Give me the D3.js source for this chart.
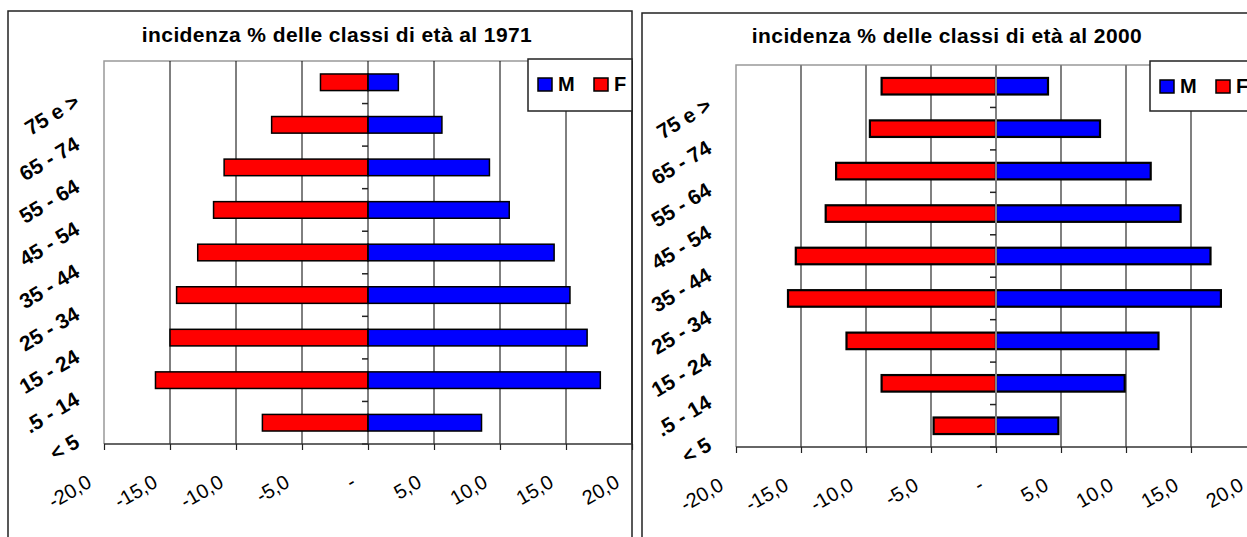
<!DOCTYPE html>
<html>
<head>
<meta charset="utf-8">
<script src="https://cdn.jsdelivr.net/npm/d3@7/dist/d3.min.js"></script>
<style>
  html, body { margin: 0; padding: 0; background: #fff; }
  svg { display: block; font-family: "Liberation Sans", Arial, sans-serif; }
</style>
</head>
<body>
<svg id="chart" width="1247" height="537"></svg>
<script>
// ---- data ----
const categories = ["75 e >", "65 - 74", "55 - 64", "45 - 54", "35 - 44", "25 - 34", "15 - 24", ".5 - 14", "< 5"];
const male1971   = [2.3, 5.6, 9.2, 10.7, 14.1, 15.3, 16.6, 17.6, 8.6];
const female1971 = [-3.6, -7.3, -10.9, -11.7, -12.9, -14.5, -15.0, -16.1, -8.0];
const male2000   = [4.0, 8.0, 11.9, 14.2, 16.5, 17.3, 12.5, 9.9, 4.8];
const female2000 = [-8.8, -9.7, -12.3, -13.1, -15.4, -16.0, -11.5, -8.8, -4.8];
const xTicks = [-20, -15, -10, -5, 0, 5, 10, 15, 20];
const seriesNames = ["M", "F"];
const titles = ["incidenza % delle classi di età al 1971", "incidenza % delle classi di età al 2000"];

const locale = d3.formatLocale({decimal: ",", thousands: ".", grouping: [3], currency: ["€", ""], minus: "-"});
const fmt = v => v === 0 ? "-" : locale.format(".1f")(v);

const svg = d3.select("#chart");

function drawChart(cfg) {
  const g = svg.append("g");
  // outer box
  g.append("rect").attr("x", cfg.box[0]).attr("y", cfg.box[1])
    .attr("width", cfg.box[2] - cfg.box[0]).attr("height", cfg.box[3] - cfg.box[1])
    .attr("fill", "#fff").attr("stroke", "#222").attr("stroke-width", 1.5);

  const x = d3.scaleLinear().domain([-20, 20]).range([cfg.plot[0], cfg.plot[1]]);
  const y = d3.scaleBand().domain(categories).range([cfg.plot[2], cfg.plot[3]])
    .paddingInner(0.61).paddingOuter(0.305);
  const step = y.step();
  const boundary = d => y(d) - y.paddingInner() * step / 2 + step;

  // plot area border (left/top gray)
  g.append("path")
    .attr("d", `M${cfg.plot[0]},${cfg.plot[3]}V${cfg.plot[2]}H${cfg.plot[1]}`)
    .attr("fill", "none").attr("stroke", "#999").attr("stroke-width", 1.5);

  // gridlines
  g.append("g").selectAll("line").data(xTicks.filter(t => t !== 0 && t !== -20))
    .join("line")
    .attr("x1", d => x(d)).attr("x2", d => x(d))
    .attr("y1", cfg.plot[2]).attr("y2", cfg.plot[3])
    .attr("stroke", cfg.gridColor).attr("stroke-width", cfg.gridWidth);

  // bars
  const rows = categories.map((c, i) => ({c, m: cfg.male[i], f: cfg.female[i]}));
  g.append("g").selectAll("rect.f").data(rows).join("rect")
    .attr("x", d => x(d.f)).attr("width", d => x(0) - x(d.f))
    .attr("y", d => y(d.c)).attr("height", y.bandwidth())
    .attr("fill", "#ff0000").attr("stroke", "#000").attr("stroke-width", cfg.barStroke);
  g.append("g").selectAll("rect.m").data(rows).join("rect")
    .attr("x", x(0)).attr("width", d => x(d.m) - x(0))
    .attr("y", d => y(d.c)).attr("height", y.bandwidth())
    .attr("fill", "#0000ff").attr("stroke", "#000").attr("stroke-width", cfg.barStroke);

  // zero axis with ticks
  const za = g.append("g");
  za.append("line").attr("x1", x(0)).attr("x2", x(0))
    .attr("y1", cfg.plot[2]).attr("y2", cfg.plot[3])
    .attr("stroke", cfg.zeroColor).attr("stroke-width", cfg.gridWidth);
  za.selectAll("line.t").data(categories).join("line")
    .attr("x1", x(0) - 6).attr("x2", x(0))
    .attr("y1", d => boundary(d)).attr("y2", d => boundary(d))
    .attr("stroke", "#222").attr("stroke-width", 1.5);

  // bottom axis
  const xa = g.append("g").attr("transform", `translate(0,${cfg.plot[3]})`)
    .call(d3.axisBottom(x).tickValues(xTicks).tickSize(6).tickFormat(""));
  xa.select(".domain").attr("stroke", "#333").attr("stroke-width", 1.5)
    .attr("d", `M${cfg.plot[0]},0H${cfg.plot[1]}`);
  xa.selectAll(".tick line").attr("stroke", "#222").attr("stroke-width", 1.2);

  // x tick labels
  g.append("g").selectAll("text").data(xTicks).join("text")
    .attr("transform", d => `translate(${x(d) - 11},${cfg.plot[3] + 42}) rotate(-30)`)
    .attr("text-anchor", "end")
    .attr("font-size", 20).attr("fill", "#000")
    .text(d => fmt(d));

  // category labels
  g.append("g").selectAll("text").data(categories).join("text")
    .attr("transform", d => `translate(${cfg.plot[0] - 23},${boundary(d) + 2}) rotate(-31)`)
    .attr("text-anchor", "end")
    .attr("font-size", 21).attr("font-weight", "bold").attr("fill", "#000")
    .text(d => d);

  // title
  g.append("text").attr("x", cfg.titleX).attr("y", cfg.titleY)
    .attr("text-anchor", "middle").attr("font-size", 21).attr("font-weight", "bold")
    .attr("letter-spacing", 0.4).text(cfg.title);

  // legend
  const lg = g.append("g");
  lg.append("rect").attr("x", cfg.legend[0]).attr("y", cfg.legend[1])
    .attr("width", cfg.legend[2] - cfg.legend[0]).attr("height", cfg.legend[3] - cfg.legend[1])
    .attr("fill", "#fff").attr("stroke", "#222").attr("stroke-width", 1.5);
  const colors = ["#0000ff", "#ff0000"];
  seriesNames.forEach((s, i) => {
    const lx = cfg.legend[0] + 10 + i * 56;
    lg.append("rect").attr("x", lx).attr("y", cfg.legend[1] + 19)
      .attr("width", 14).attr("height", 13)
      .attr("fill", colors[i]).attr("stroke", "#000").attr("stroke-width", 1.5);
    lg.append("text").attr("x", lx + 20).attr("y", cfg.legend[1] + 32)
      .attr("font-size", 20).attr("font-weight", "bold").text(s);
  });
}

drawChart({
  box: [8, 11, 632, 560],
  plot: [104, 632, 61, 444],
  legend: [528, 59, 632, 111],
  titleX: 337, titleY: 42,
  title: titles[0],
  male: male1971, female: female1971,
  gridColor: "#000", gridWidth: 1, zeroColor: "#000", barStroke: 1.5
});
drawChart({
  box: [642, 13, 1270, 560],
  plot: [736, 1256, 65, 447],
  legend: [1150, 61, 1270, 111],
  titleX: 947, titleY: 43,
  title: titles[1],
  male: male2000, female: female2000,
  gridColor: "#808080", gridWidth: 2, zeroColor: "#808080", barStroke: 2.2
});
</script>
</body>
</html>
